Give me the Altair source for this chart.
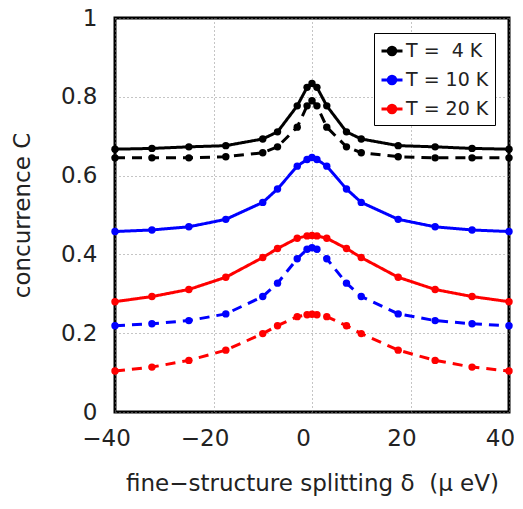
import altair as alt
import pandas as pd

delta = [-40, -32.5, -25, -17.5, -10, -7, -3, -1, 0, 1, 3, 7, 10, 17.5, 25, 32.5, 40]

black_solid = [0.667, 0.669, 0.673, 0.676, 0.693, 0.711, 0.777, 0.824, 0.834,
               0.824, 0.777, 0.711, 0.693, 0.676, 0.673, 0.669, 0.667]
black_dashed = [0.645, 0.645, 0.645, 0.648, 0.658, 0.673, 0.723, 0.777, 0.790,
                0.777, 0.723, 0.673, 0.658, 0.648, 0.645, 0.645, 0.645]
blue_solid = [0.458, 0.462, 0.470, 0.489, 0.532, 0.566, 0.624, 0.641, 0.646,
              0.641, 0.624, 0.566, 0.532, 0.489, 0.470, 0.462, 0.458]
blue_dashed = [0.219, 0.224, 0.232, 0.249, 0.293, 0.327, 0.389, 0.413, 0.417,
               0.413, 0.389, 0.327, 0.293, 0.249, 0.232, 0.224, 0.219]
red_solid = [0.280, 0.293, 0.311, 0.342, 0.392, 0.415, 0.441, 0.447, 0.448,
             0.447, 0.441, 0.415, 0.392, 0.342, 0.311, 0.293, 0.280]
red_dashed = [0.104, 0.114, 0.131, 0.157, 0.199, 0.219, 0.242, 0.247, 0.248,
              0.247, 0.242, 0.219, 0.199, 0.157, 0.131, 0.114, 0.104]

labels = ["T = \u00a04 K", "T = 10 K", "T = 20 K"]
colors = ["#000000", "#0000ff", "#ff0000"]
x_ticks = [-40, -20, 0, 20, 40]
y_ticks = [0, 0.2, 0.4, 0.6, 0.8, 1]

series = [
    (labels[0], "solid", black_solid),
    (labels[0], "dashed", black_dashed),
    (labels[1], "solid", blue_solid),
    (labels[1], "dashed", blue_dashed),
    (labels[2], "solid", red_solid),
    (labels[2], "dashed", red_dashed),
]
rows = []
for i, (lab, kind, vals) in enumerate(series):
    for d, v in zip(delta, vals):
        rows.append({"delta": d, "C": v, "T": lab, "kind": kind, "sid": i})
df = pd.DataFrame(rows)

FONT = "DejaVu Sans"

legend = alt.Legend(
    title=None,
    orient="none",
    legendX=259,
    legendY=15,
    strokeColor="black",
    fillColor="white",
    padding=6,
    symbolType="M-1,0H1M-0.36,0A0.36,0.36,0,1,1,0.36,0A0.36,0.36,0,1,1,-0.36,0Z",
    symbolSize=441,
    symbolStrokeWidth=3,
    symbolOpacity=1,
    labelFont=FONT,
    labelFontSize=19,
    labelColor="#222222",
    labelOffset=2,
    rowPadding=7,
)

cscale = alt.Scale(domain=labels, range=colors)

x = alt.X("delta:Q", scale=alt.Scale(domain=[-40, 40], nice=False),
          axis=alt.Axis(values=x_ticks, title="fine\u2212structure splitting \u03b4\u00a0 (\u03bc eV)",
                        labelFlush=False, labelOffset=-9, labelPadding=15, titlePadding=22))
y = alt.Y("C:Q", scale=alt.Scale(domain=[0, 1], nice=False),
          axis=alt.Axis(values=y_ticks, format="~g", title="concurrence C",
                        labelPadding=18, titlePadding=26))

lines = alt.Chart(df).mark_line(strokeWidth=3).encode(
    x=x, y=y,
    stroke=alt.Stroke("T:N", scale=cscale, legend=legend),
    strokeDash=alt.StrokeDash("kind:N", scale=alt.Scale(domain=["solid", "dashed"],
                                                          range=[[1, 0], [10, 7]]), legend=None),
    detail="sid:N",
)
points = alt.Chart(df).mark_circle(size=55, opacity=1).encode(
    x=x, y=y,
    fill=alt.Fill("T:N", scale=cscale, legend=legend),
    detail="sid:N",
)

chart = (lines + points).properties(
    width=394, height=394,
    autosize=alt.AutoSizeParams(type="none"),
    padding={"left": 107, "top": 10, "right": 5, "bottom": 86},
).configure_view(
    stroke="black", strokeWidth=3,
).configure_axis(
    domain=False, ticks=False,
    grid=True, gridColor="#8a8a8a", gridDash=[1, 3], gridWidth=1,
    labelFont=FONT, labelFontSize=23, labelColor="#222222",
    titleFont=FONT, titleFontSize=23, titleFontWeight="normal", titleColor="#222222",
)

chart.save("out.html", embed_options={"renderer": "svg", "actions": False})
